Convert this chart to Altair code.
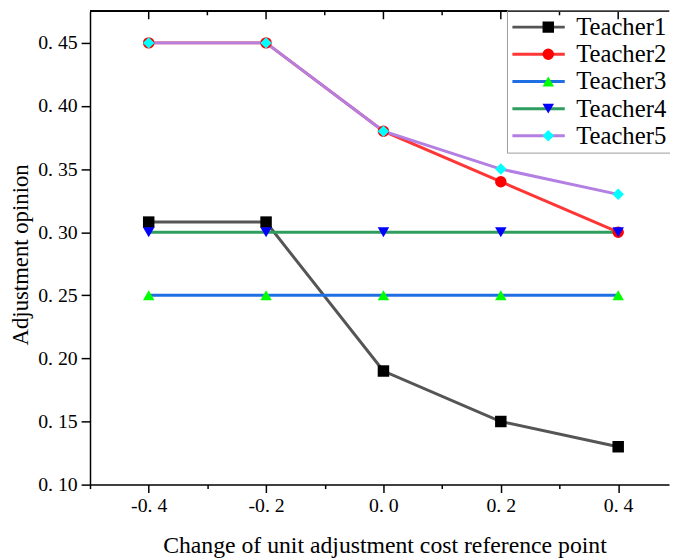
import altair as alt
import pandas as pd

# ---- data ----
x_vals = [-0.4, -0.2, 0.0, 0.2, 0.4]
teachers = ["Teacher1", "Teacher2", "Teacher3", "Teacher4", "Teacher5"]
teacher1 = [0.308, 0.308, 0.19, 0.15, 0.13]
teacher2 = [0.45, 0.45, 0.38, 0.34, 0.30]
teacher3 = [0.25, 0.25, 0.25, 0.25, 0.25]
teacher4 = [0.30, 0.30, 0.30, 0.30, 0.30]
teacher5 = [0.45, 0.45, 0.38, 0.35, 0.33]

x_ticks = [-0.5, -0.4, -0.3, -0.2, -0.1, 0.0, 0.1, 0.2, 0.3, 0.4]
y_ticks = [0.1, 0.125, 0.15, 0.175, 0.2, 0.225, 0.25, 0.275, 0.3, 0.325,
           0.35, 0.375, 0.4, 0.425, 0.45, 0.475]
top_major = [-0.4, -0.2, 0.0, 0.2, 0.4]
top_minor = [-0.3, -0.1, 0.1, 0.3]

line_colors = ["#555555", "#ff3636", "#1f6fe3", "#2e9d5e", "#b47fe2"]
marker_colors = ["#000000", "#ff0000", "#00ff00", "#0000ff", "#00ffff"]
marker_shapes = ["square", "circle", "triangle-up", "triangle-down", "diamond"]

series = [teacher1, teacher2, teacher3, teacher4, teacher5]
rows = []
for name, ys in zip(teachers, series):
    for xv, yv in zip(x_vals, ys):
        rows.append({"x": xv, "y": yv, "Teacher": name, "Series": name})
df = pd.DataFrame(rows)
df_top_major = pd.DataFrame({"x": top_major})
df_top_minor = pd.DataFrame({"x": top_minor})

W, H = 586, 479
FONT = "Liberation Serif"

xscale = alt.Scale(domain=[-0.5, 0.4866], nice=False, zero=False)
yscale = alt.Scale(domain=[0.10, 0.475], nice=False, zero=False)

x_axis = alt.Axis(
    values=x_ticks,
    title="Change of unit adjustment cost reference point",
    titleFont=FONT, titleFontSize=24, titleFontWeight="normal", titleColor="black",
    titleX=298, titleY=69, titleBaseline="alphabetic",
    labelFont=FONT, labelFontSize=20, labelColor="black",
    labelExpr="abs(round(datum.value*10)) % 2 == 0 ? replace(replace(format(datum.value, '.1f'), '\u2212', '-'), '.', '. ') : ''",
    tickSize={"condition": {"test": "abs(round(datum.value*10)) % 2 == 0", "value": 8}, "value": 4},
    tickWidth=1.5, tickColor="black", domainColor="black", domainWidth=1.5,
    labelPadding=3, grid=False, labelFlush=False, labelOverlap=False,
)
y_axis = alt.Axis(
    values=y_ticks,
    title="Adjustment opinion",
    titleFont=FONT, titleFontSize=23, titleFontWeight="normal", titleColor="black",
    titleX=-63, titleY=246, titleBaseline="alphabetic", titleAngle=-90,
    labelFont=FONT, labelFontSize=20, labelColor="black",
    labelExpr="round(datum.value*40) % 2 == 0 ? replace(format(datum.value, '.2f'), '.', '. ') : ''",
    tickSize={"condition": {"test": "round(datum.value*40) % 2 == 0", "value": 9}, "value": 5},
    tickWidth=1.5, tickColor="black", domainColor="black", domainWidth=1.5,
    labelPadding=4, grid=False, labelFlush=False, labelOverlap=False,
)

legend_lines = alt.Legend(
    title=None, orient="none", legendX=422, legendY=-1,
    symbolType="stroke", symbolSize=2809, symbolStrokeWidth=3,
    labelFont=FONT, labelFontSize=25, labelColor="black", labelOffset=10,
    padding=4, strokeColor="#9a9a9a", clipHeight=26, rowPadding=1.5,
)
legend_marks = alt.Legend(
    title=None, orient="none", legendX=447.3, legendY=-1,
    symbolSize=135, symbolStrokeWidth=0, symbolOpacity=1,
    labelFont=FONT, labelFontSize=25, labelExpr="''", labelOffset=10,
    padding=4, clipHeight=26, rowPadding=1.5,
)

lines = alt.Chart(df).mark_line(strokeWidth=3).encode(
    x=alt.X("x:Q", scale=xscale, axis=x_axis),
    y=alt.Y("y:Q", scale=yscale, axis=y_axis),
    color=alt.Color("Teacher:N", scale=alt.Scale(range=line_colors), legend=legend_lines),
)

points = alt.Chart(df).mark_point(filled=True, size=135, opacity=1, strokeWidth=0).encode(
    x=alt.X("x:Q"),
    y=alt.Y("y:Q"),
    fill=alt.Fill("Series:N", scale=alt.Scale(range=marker_colors), legend=legend_marks),
    shape=alt.Shape("Series:N", scale=alt.Scale(range=marker_shapes), legend=legend_marks),
)

top_frame = alt.Chart(df_top_major).mark_rule(color="black", strokeWidth=1.5).encode(
    x=alt.value(0), x2=alt.value(W), y=alt.value(0)
)
top_ticks_major = alt.Chart(df_top_major).mark_rule(color="black", strokeWidth=1.5).encode(
    x=alt.X("x:Q"), y=alt.value(0), y2=alt.value(8)
)
top_ticks_minor = alt.Chart(df_top_minor).mark_rule(color="black", strokeWidth=1.5).encode(
    x=alt.X("x:Q"), y=alt.value(0), y2=alt.value(4)
)

chart = alt.layer(lines, points, top_frame, top_ticks_major, top_ticks_minor).properties(
    width=W, height=H,
    padding={"left": 83, "top": 0, "right": 1, "bottom": 78},
    autosize=alt.AutoSizeParams(type="none"),
    background="white",
).configure_view(stroke=None)

chart.save("out.html", embed_options={"renderer": "svg", "actions": False})
